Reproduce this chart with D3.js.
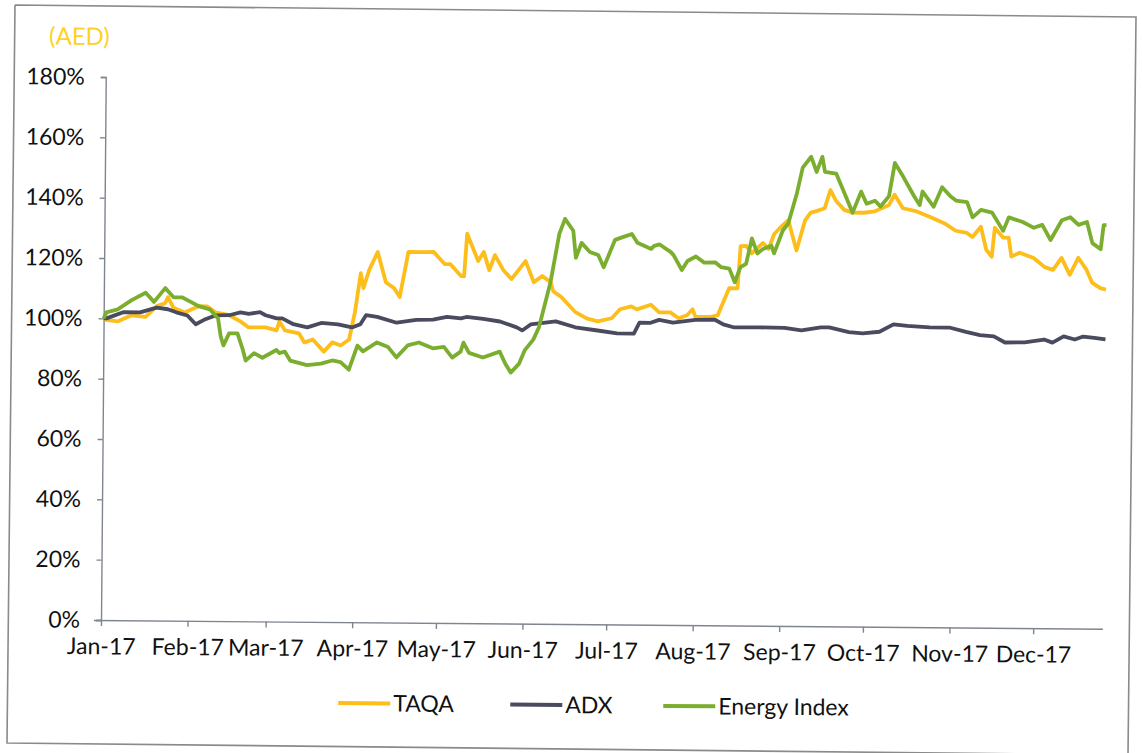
<!DOCTYPE html>
<html><head><meta charset="utf-8">
<script src="https://cdn.jsdelivr.net/npm/d3@7"></script>
<style>
html,body{margin:0;padding:0;background:#fff;}
svg{display:block;}
text{font-family:Lato,"Open Sans",sans-serif;}
</style></head>
<body>
<svg id="chart" width="1142" height="753"></svg>
<script>
// ---- data (values in %, dates in 2017) ----
const unitLabel = "(AED)";
const yTicks = [0, 20, 40, 60, 80, 100, 120, 140, 160, 180];
const monthTicks = ["2017-01-01","2017-02-01","2017-03-01","2017-04-01","2017-05-01","2017-06-01","2017-07-01","2017-08-01","2017-09-01","2017-10-01","2017-11-01","2017-12-01"];
const seriesNames = ["TAQA", "ADX", "Energy Index"];

const taqa = [
["01-01",100],["01-02",99.5],["01-06",99],["01-11",101.1],["01-16",100.6],["01-20",104.2],["01-23",105.2],["01-24",107.2],["01-26",103.7],["01-30",102.2],
["02-04",104.3],["02-07",104.3],["02-10",102.3],["02-15",101.4],["02-19",99.4],["02-22",97.4],["02-28",97.5],
["03-04",96.5],["03-05",99.5],["03-07",96.5],["03-12",95.6],["03-14",92.6],["03-17",93.6],["03-21",89.6],["03-24",92.7],["03-27",91.7],["03-30",93.7],
["04-01",102.7],["04-03",115.7],["04-04",110.8],["04-06",116.8],["04-09",122.8],["04-12",112.8],["04-15",110.8],["04-17",107.9],["04-20",122.9],["04-25",122.9],["04-29",123],
["05-03",119],["05-05",119],["05-09",115],["05-10",115],["05-11",129.1],["05-15",120.1],["05-17",123.1],["05-19",117.1],["05-21",122.1],["05-24",117.2],["05-27",114.2],
["06-01",120.2],["06-04",113.2],["06-07",115.3],["06-10",113.3],["06-11",110.3],["06-14",108.3],["06-19",103.4],["06-23",101.4],["06-27",100.4],
["07-02",101.5],["07-05",104.5],["07-09",105.5],["07-11",104.5],["07-16",106.1],["07-19",103.6],["07-23",103.6],["07-26",101.7],["07-29",102.7],["07-31",104.7],
["08-01",102.2],["08-06",102.2],["08-09",102.8],["08-11",107.3],["08-13",111.8],["08-16",111.8],["08-17",125.8],["08-19",125.9],["08-21",123.4],["08-25",126.9],["08-27",124.9],["08-29",129.9],["08-31",131.9],
["09-03",134.5],["09-06",124.5],["09-09",134.5],["09-11",137.1],["09-13",137.6],["09-16",138.6],["09-18",144.6],["09-20",141.1],["09-23",138.1],["09-26",137.2],["09-30",137.2],
["10-04",137.7],["10-09",139.8],["10-11",143.3],["10-14",138.8],["10-19",137.8],["10-24",135.9],["10-29",133.9],
["11-02",131.5],["11-06",130.8],["11-08",129.5],["11-11",132.9],["11-13",125.3],["11-15",123],["11-16",132.6],["11-19",129.4],["11-21",129.4],["11-22",123.1],["11-25",124.4],["11-30",122.7],
["12-04",119.7],["12-07",118.8],["12-10",122.8],["12-13",117.2],["12-16",122.9],["12-19",118.9],["12-21",114.7],["12-24",112.9],["12-26",112.4]
];

const adx = [
["01-01",100],["01-02",100],["01-08",102.1],["01-14",102.1],["01-20",103.7],["01-24",103.2],["01-27",102.2],["01-31",101.2],
["02-03",98.3],["02-06",99.8],["02-10",101.3],["02-15",101.4],["02-19",102.4],["02-22",101.9],["02-26",102.5],["02-28",101.5],
["03-04",100.5],["03-06",100.5],["03-10",98.6],["03-15",97.6],["03-20",99.1],["03-26",98.7],["03-31",97.7],
["04-03",98.8],["04-05",101.8],["04-09",101.3],["04-16",99.4],["04-23",100.4],["04-29",100.5],
["05-04",101.5],["05-09",101],["05-11",101.5],["05-17",100.9],["05-23",100.1],["05-29",98.2],["05-31",97.2],
["06-03",99.2],["06-12",100.3],["06-19",98.4],["06-27",97.4],
["07-04",96.5],["07-10",96.5],["07-12",100.1],["07-16",100.1],["07-19",101.1],["07-24",100.2],
["08-01",101.2],["08-08",101.3],["08-11",99.8],["08-15",98.8],["08-24",98.9],
["09-02",98.8],["09-08",98],["09-15",99.1],["09-18",99.1],["09-25",97.6],["09-30",97.2],
["10-06",97.8],["10-11",100.3],["10-16",99.8],["10-24",99.4],["10-31",99.4],
["11-06",98],["11-11",97],["11-16",96.6],["11-20",94.6],["11-27",94.7],
["12-04",95.7],["12-07",94.7],["12-11",96.8],["12-15",95.8],["12-18",96.8],["12-22",96.4],["12-26",95.9]
];

const energy = [
["01-01",100],["01-02",102],["01-06",103],["01-11",106.1],["01-16",108.6],["01-19",105.6],["01-23",110.2],["01-26",107.2],["01-29",107.2],
["02-01",105.8],["02-04",104.3],["02-08",103.3],["02-11",100.3],["02-12",94.3],["02-13",91.4],["02-15",95.4],["02-18",95.4],["02-20",89.9],["02-21",86.4],["02-24",88.9],["02-27",87.4],
["03-04",90],["03-05",89],["03-07",89.5],["03-09",86.5],["03-15",85.1],["03-20",85.6],["03-24",86.7],["03-27",86.2],["03-30",83.7],
["04-02",91.7],["04-04",89.8],["04-09",92.8],["04-13",91.3],["04-16",87.9],["04-20",91.9],["04-24",92.9],["04-29",91],
["05-03",91.5],["05-06",88],["05-09",90],["05-10",93],["05-12",89.6],["05-17",88.1],["05-23",90.1],["05-25",86.2],["05-27",83.2],["05-30",86.2],
["06-01",90.7],["06-04",94.2],["06-06",98.3],["06-10",113.3],["06-13",129.3],["06-15",134.3],["06-18",130.4],["06-19",121.4],["06-21",126.4],["06-24",123.4],["06-27",122.4],["06-29",118.4],
["07-03",127.5],["07-06",128.5],["07-09",129.5],["07-11",126.6],["07-16",124.6],["07-17",125.6],["07-19",126.1],["07-23",123.6],["07-24",122.6],["07-27",117.7],["07-29",120.7],
["08-01",122.2],["08-04",120.2],["08-08",120.3],["08-10",118.8],["08-13",118.3],["08-15",113.8],["08-17",118.8],["08-19",119.9],["08-21",128.4],["08-23",123.4],["08-25",124.9],["08-28",126],["08-29",123.5],
["09-01",131],["09-03",133.5],["09-06",143.5],["09-08",152],["09-11",155.6],["09-13",150.6],["09-15",155.6],["09-16",150.6],["09-20",150.1],["09-23",143.7],["09-26",137.2],["09-29",144.2],
["10-01",140.2],["10-04",141.2],["10-06",139.3],["10-09",142.8],["10-11",153.8],["10-14",149.3],["10-18",142.8],["10-20",139.9],["10-21",144.4],["10-25",139.4],["10-28",145.9],["10-31",142.9],
["11-02",141.5],["11-06",141],["11-08",136],["11-11",138.5],["11-15",137.6],["11-19",131.6],["11-21",136.1],["11-26",134.6],["11-30",132.7],
["12-03",133.7],["12-06",128.7],["12-10",135.3],["12-13",136.3],["12-16",133.8],["12-19",134.8],["12-21",127.8],["12-24",125.8],["12-25",133.8],["12-26",133.8]
];

// ---- drawing ----
const parse = d3.timeParse("%Y-%m-%d");
const toPts = arr => arr.map(([d, v]) => ({date: parse("2017-" + d), value: v}));
const series = [
  {name: seriesNames[0], color: "#FDBE1B", data: toPts(taqa)},
  {name: seriesNames[1], color: "#4A4B5F", data: toPts(adx)},
  {name: seriesNames[2], color: "#7BAE2F", data: toPts(energy)}
];

const svg = d3.select("#chart");

// scanned page border
svg.append("path")
  .attr("d", d3.line()([[15,5],[1136,17],[1128,755],[7,743],[15,5]]))
  .attr("fill", "none").attr("stroke", "#8a8a8a").attr("stroke-width", 1.6);

const x = d3.scaleTime()
  .domain([parse("2017-01-01"), parse("2017-12-26")])
  .range([101, 1103]);
const y = d3.scaleLinear().domain([0, 180]).range([620, 77]);

// the scanned chart is tilted slightly clockwise
const g = svg.append("g").attr("transform", "rotate(0.5,101,620)");

// y axis
const yAxis = g.append("g").attr("transform", "translate(101,0)")
  .call(d3.axisLeft(y).tickValues(yTicks).tickFormat(d => d + "%").tickSize(5).tickPadding(16));
yAxis.select(".domain").attr("stroke", "#7f8590").attr("stroke-width", 1.4);
yAxis.selectAll(".tick line").attr("stroke", "#7f8590").attr("stroke-width", 1.4);
yAxis.selectAll(".tick text").attr("font-size", 23).attr("fill", "#111")
  .attr("font-family", "Lato, sans-serif");

// x axis
const xAxis = g.append("g").attr("transform", "translate(0,620)")
  .call(d3.axisBottom(x).tickValues(monthTicks.map(parse)).tickFormat(d3.timeFormat("%b-%y")).tickSize(6).tickSizeOuter(0).tickPadding(12));
xAxis.select(".domain").attr("d", "M94,0.5H1103").attr("stroke", "#7f8590").attr("stroke-width", 1.4);
xAxis.selectAll(".tick line").attr("stroke", "#7f8590").attr("stroke-width", 1.4);
xAxis.selectAll(".tick text").attr("font-size", 23).attr("fill", "#111")
  .attr("font-family", "Lato, sans-serif");

// lines
const line = d3.line().x(d => x(d.date)).y(d => y(d.value));
g.selectAll(".series").data(series).join("path")
  .attr("class", "series")
  .attr("d", d => line(d.data))
  .attr("fill", "none")
  .attr("stroke", d => d.color)
  .attr("stroke-width", 3.8)
  .attr("stroke-linejoin", "round");

// unit label
g.append("text").attr("x", 44).attr("y", 45).text(unitLabel)
  .attr("font-size", 24).attr("fill", "#FFD21F").attr("font-family", "Lato, sans-serif");

// legend
const legendX = [339, 511, 664];
const lg = g.append("g");
series.forEach((s, i) => {
  lg.append("line").attr("x1", legendX[i]).attr("x2", legendX[i] + 52)
    .attr("y1", 701).attr("y2", 701).attr("stroke", s.color).attr("stroke-width", 4);
  lg.append("text").attr("x", legendX[i] + 55).attr("y", 709).text(s.name)
    .attr("font-size", 23).attr("fill", "#111");
});
</script>
</body></html>
